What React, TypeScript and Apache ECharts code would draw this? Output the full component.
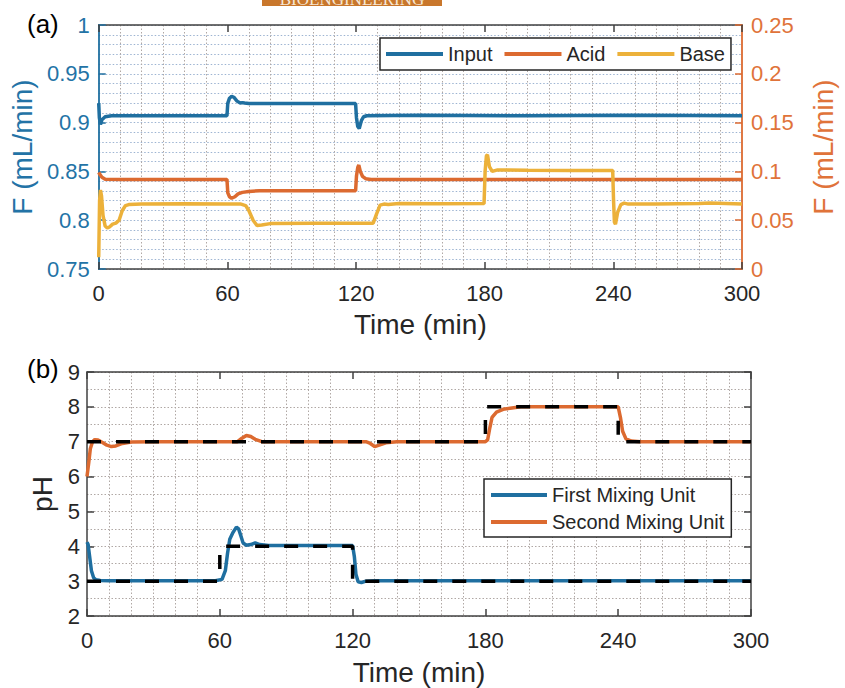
import React, { useEffect, useRef } from "react";
import * as echarts from "echarts";

// ---------- data ----------
const timeRange = [0, 300];
const timeStep = 60;
const flowLeftRange = [0.75, 1];
const flowRightRange = [0, 0.25];
const flowStep = 0.05;
const phRange = [2, 9];
const phStep = 1;

const legendA = ["Input", "Acid", "Base"];
const legendB = ["First Mixing Unit", "Second Mixing Unit"];

// panel (a): [time (min), flow (mL/min)]
const inputFlow = [
  [0, 0.92], [0.3, 0.905], [0.8, 0.898], [1.5, 0.903], [3, 0.906], [6, 0.907],
  [30, 0.907], [59.8, 0.907], [60.2, 0.92], [61, 0.925], [62, 0.927], [63, 0.926],
  [64.5, 0.922], [66, 0.92], [67, 0.9205], [68, 0.92], [70, 0.9195], [90, 0.9195],
  [119.8, 0.9195], [120.2, 0.905], [120.8, 0.896], [121.5, 0.894], [122.5, 0.902],
  [123.5, 0.906], [125, 0.907], [150, 0.9075], [200, 0.907], [250, 0.9075], [300, 0.907],
];
const acidFlow = [
  [0, 0.099], [0.5, 0.097], [1.5, 0.094], [3, 0.092], [10, 0.0918], [59.8, 0.0918],
  [60.2, 0.078], [61, 0.074], [62, 0.0725], [63.5, 0.074], [65, 0.077], [67, 0.0785],
  [70, 0.0795], [75, 0.0802], [119.8, 0.0802], [120.2, 0.095], [120.8, 0.104],
  [121.3, 0.1065], [122, 0.1], [123, 0.095], [124.5, 0.0925], [127, 0.0918], [300, 0.0918],
];
const baseFlow = [
  [0, 0.012], [0.4, 0.07], [0.8, 0.081], [1.3, 0.075], [2, 0.055], [3, 0.044],
  [4, 0.042], [5, 0.043], [6.5, 0.046], [8, 0.047], [9.5, 0.05], [11, 0.06],
  [12.5, 0.065], [14, 0.066], [20, 0.0665], [40, 0.0668], [60, 0.0665], [66, 0.0667],
  [68.5, 0.065], [70, 0.06], [72, 0.05], [73.8, 0.0445], [76, 0.045], [80, 0.0465],
  [100, 0.047], [128, 0.047], [129.5, 0.056], [131.2, 0.0655], [133, 0.0665],
  [135, 0.066], [140, 0.0672], [160, 0.0668], [179.7, 0.067], [180.2, 0.1],
  [180.8, 0.116], [181.3, 0.117], [182.2, 0.105], [183.5, 0.1], [186, 0.1015],
  [200, 0.1012], [220, 0.101], [239.7, 0.101], [240.1, 0.07], [240.5, 0.048],
  [241, 0.046], [242, 0.058], [243.5, 0.066], [245, 0.0675], [247, 0.0665],
  [260, 0.0665], [280, 0.0672], [285, 0.0675], [300, 0.0665],
];

// panel (b): [time (min), pH]
const firstUnitPH = [
  [0, 4.12], [0.5, 4.05], [1.2, 3.7], [2, 3.3], [3, 3.1], [4, 3.04], [6, 3.02],
  [10, 3.01], [30, 3.01], [58, 3.01], [61, 3.05], [62.5, 3.3], [63.5, 3.8],
  [64.5, 4.2], [66, 4.4], [67.5, 4.55], [68.5, 4.5], [69.5, 4.3], [70.5, 4.1],
  [72, 4.03], [74, 4.05], [76, 4.1], [78, 4.05], [82, 4.02], [100, 4.02],
  [120, 4.02], [120.8, 3.7], [121.5, 3.2], [122.5, 2.98], [124, 2.96], [126, 3.0],
  [130, 3.01], [200, 3.01], [300, 3.01],
];
const secondUnitPH = [
  [0, 6.0], [0.8, 6.4], [1.5, 6.8], [2.5, 7.0], [3.5, 7.06], [5, 7.05], [7, 6.98],
  [9, 6.9], [11, 6.86], [13, 6.88], [16, 6.95], [20, 6.99], [30, 7.0], [60, 7.0],
  [68, 7.0], [70, 7.1], [72, 7.18], [74, 7.15], [76, 7.07], [79, 7.0], [100, 7.0],
  [126, 7.0], [128, 6.95], [130, 6.86], [132, 6.9], [135, 6.97], [140, 7.0],
  [180, 7.0], [181, 7.05], [182, 7.4], [183, 7.7], [185, 7.85], [188, 7.93],
  [192, 7.97], [196, 8.0], [240, 8.0], [241, 7.7], [242, 7.3], [243.5, 7.08],
  [246, 7.02], [250, 7.0], [300, 7.0],
];
const setpointFirst = [[0, 3], [60, 3], [60, 4], [120, 4], [120, 3], [300, 3]];
const setpointSecond = [[0, 7], [180, 7], [180, 8], [240, 8], [240, 7], [300, 7]];

// ---------- styles ----------
const FONT = "'Liberation Sans', Arial, Helvetica, sans-serif";
const BLUE = "#1f6fa0";
const ORANGE = "#dc6a30";
const YELLOW = "#ecb13a";
const BLUE_TXT = "#2373a6";
const ORANGE_TXT = "#e0733a";
const AXIS = "#404040";
const TXT = "#262626";
const GRID_GRAY = "#b0a8a5";
const GRID_BLUE = "#9db4d2";
const DOT = [1.5, 2];

function xAxisCfg(grid: number, top: boolean, showLabel: boolean, gridColor: string, nameGap: number) {
  return {
    type: "value",
    gridIndex: grid,
    position: top ? "top" : "bottom",
    min: timeRange[0],
    max: timeRange[1],
    interval: timeStep,
    name: showLabel ? "Time (min)" : "",
    nameLocation: "middle",
    nameGap,
    nameTextStyle: { fontFamily: FONT, fontSize: 28, color: TXT },
    axisLine: { show: true, onZero: false, lineStyle: { color: AXIS, width: 1.5 } },
    axisTick: { show: true, inside: true, length: 7, lineStyle: { color: AXIS, width: 1.5 } },
    axisLabel: { show: showLabel, fontFamily: FONT, fontSize: 22, color: TXT, margin: 13 },
    splitLine: { show: false },
    minorTick: { show: false, splitNumber: 6 },
    minorSplitLine: { show: showLabel, lineStyle: { color: gridColor, width: 1, type: DOT } },
  };
}

export default function App() {
  const ref = useRef<HTMLDivElement>(null);
  useEffect(() => {
    if (!ref.current) return;
    const chart = echarts.init(ref.current, undefined, { renderer: "svg" });
    const option: any = {
      animation: false,
      backgroundColor: "#ffffff",
      textStyle: { fontFamily: FONT },
      grid: [
        { left: 98, top: 25, width: 651, height: 244, show: false },
        { left: 87, top: 372, width: 664, height: 244, show: false },
      ],
      xAxis: [
        xAxisCfg(0, false, true, GRID_GRAY, 41),
        xAxisCfg(0, true, false, GRID_GRAY, 0),
        xAxisCfg(1, false, true, GRID_GRAY, 42),
        xAxisCfg(1, true, false, GRID_GRAY, 0),
      ],
      yAxis: [
        {
          type: "value", gridIndex: 0, position: "left",
          min: flowLeftRange[0], max: flowLeftRange[1], interval: flowStep,
          name: "F (mL/min)", nameLocation: "middle", nameGap: 59,
          nameTextStyle: { fontFamily: FONT, fontSize: 28, color: BLUE_TXT },
          axisLine: { show: true, onZero: false, lineStyle: { color: BLUE, width: 1.8 } },
          axisTick: { show: true, inside: true, length: 7, lineStyle: { color: BLUE, width: 1.5 } },
          axisLabel: { fontFamily: FONT, fontSize: 22, color: BLUE_TXT, margin: 9 },
          splitLine: { show: true, lineStyle: { color: GRID_BLUE, width: 1, type: DOT } },
          minorTick: { show: false, splitNumber: 5 },
          minorSplitLine: { show: true, lineStyle: { color: GRID_BLUE, width: 1, type: DOT } },
        },
        {
          type: "value", gridIndex: 0, position: "right",
          min: flowRightRange[0], max: flowRightRange[1], interval: flowStep,
          name: "F (mL/min)", nameLocation: "middle", nameGap: 67,
          nameTextStyle: { fontFamily: FONT, fontSize: 28, color: ORANGE_TXT },
          axisLine: { show: true, onZero: false, lineStyle: { color: ORANGE, width: 1.8 } },
          axisTick: { show: true, inside: true, length: 7, lineStyle: { color: ORANGE, width: 1.5 } },
          axisLabel: { fontFamily: FONT, fontSize: 22, color: ORANGE_TXT, margin: 9 },
          splitLine: { show: false },
        },
        {
          type: "value", gridIndex: 1, position: "left",
          min: phRange[0], max: phRange[1], interval: phStep,
          name: "pH", nameLocation: "middle", nameGap: 27,
          nameTextStyle: { fontFamily: FONT, fontSize: 28, color: TXT },
          axisLine: { show: true, onZero: false, lineStyle: { color: AXIS, width: 1.5 } },
          axisTick: { show: true, inside: true, length: 7, lineStyle: { color: AXIS, width: 1.5 } },
          axisLabel: { fontFamily: FONT, fontSize: 22, color: TXT, margin: 7 },
          splitLine: { show: true, lineStyle: { color: GRID_GRAY, width: 1, type: DOT } },
          minorTick: { show: false, splitNumber: 2 },
          minorSplitLine: { show: true, lineStyle: { color: GRID_GRAY, width: 1, type: DOT } },
        },
        {
          type: "value", gridIndex: 1, position: "right",
          min: phRange[0], max: phRange[1], interval: phStep,
          axisLine: { show: true, onZero: false, lineStyle: { color: AXIS, width: 1.5 } },
          axisTick: { show: true, inside: true, length: 7, lineStyle: { color: AXIS, width: 1.5 } },
          axisLabel: { show: false },
          splitLine: { show: false },
        },
      ],
      legend: [
        {
          data: legendA, orient: "horizontal", left: 380, top: 38,
          padding: [5, 6, 5, 6], itemGap: 12, itemWidth: 57, itemHeight: 4, icon: "rect",
          backgroundColor: "#ffffff", borderColor: TXT, borderWidth: 1.5, borderRadius: 0,
          textStyle: { fontFamily: FONT, fontSize: 20, color: TXT, lineHeight: 22 },
          selectedMode: false, z: 10,
        },
        {
          data: legendB, orient: "vertical", left: 484, top: 479,
          padding: [5, 7, 4, 7], itemGap: 5, itemWidth: 56, itemHeight: 4, icon: "rect",
          backgroundColor: "#ffffff", borderColor: TXT, borderWidth: 1.5, borderRadius: 0,
          textStyle: { fontFamily: FONT, fontSize: 20, color: TXT, lineHeight: 22 },
          selectedMode: false, z: 10,
        },
      ],
      series: [
        { name: legendA[0], type: "line", xAxisIndex: 0, yAxisIndex: 0, data: inputFlow, showSymbol: false, symbol: "none", color: BLUE, lineStyle: { width: 3.5, color: BLUE } },
        { name: legendA[1], type: "line", xAxisIndex: 0, yAxisIndex: 1, data: acidFlow, showSymbol: false, symbol: "none", color: ORANGE, lineStyle: { width: 3.5, color: ORANGE } },
        { name: legendA[2], type: "line", xAxisIndex: 0, yAxisIndex: 1, data: baseFlow, showSymbol: false, symbol: "none", color: YELLOW, lineStyle: { width: 3.5, color: YELLOW } },
        { name: legendB[0], type: "line", xAxisIndex: 2, yAxisIndex: 2, data: firstUnitPH, showSymbol: false, symbol: "none", color: BLUE, lineStyle: { width: 3.5, color: BLUE } },
        { name: legendB[1], type: "line", xAxisIndex: 2, yAxisIndex: 2, data: secondUnitPH, showSymbol: false, symbol: "none", color: ORANGE, lineStyle: { width: 3.5, color: ORANGE } },
        { name: "Setpoint 1", type: "line", xAxisIndex: 2, yAxisIndex: 2, data: setpointFirst, showSymbol: false, symbol: "none", z: 3, lineStyle: { width: 3.5, color: "#000000", type: [14, 15] } },
        { name: "Setpoint 2", type: "line", xAxisIndex: 2, yAxisIndex: 2, data: setpointSecond, showSymbol: false, symbol: "none", z: 3, lineStyle: { width: 3.5, color: "#000000", type: [14, 15] } },
      ],
      graphic: [
        { type: "rect", left: 262, top: 0, shape: { width: 180, height: 6 }, style: { fill: "#c9772c" }, z: 20 },
        { type: "text", x: 352, y: 8, style: { text: "BIOENGINEERING", font: "17px 'Liberation Serif', serif", fill: "#f6e7d6", align: "center", verticalAlign: "bottom" }, z: 21 },
        { type: "text", x: 27, y: 24, style: { text: "(a)", font: "26px 'Liberation Sans', Arial, sans-serif", fill: "#000000", align: "left", verticalAlign: "middle" }, z: 20 },
        { type: "text", x: 27, y: 369, style: { text: "(b)", font: "26px 'Liberation Sans', Arial, sans-serif", fill: "#000000", align: "left", verticalAlign: "middle" }, z: 20 },
      ],
    };
    chart.setOption(option);
    return () => chart.dispose();
  }, []);
  return (
    <div
      ref={ref}
      style={{ position: "fixed", left: 0, top: 0, width: 845, height: 688, background: "#fff" }}
    />
  );
}
